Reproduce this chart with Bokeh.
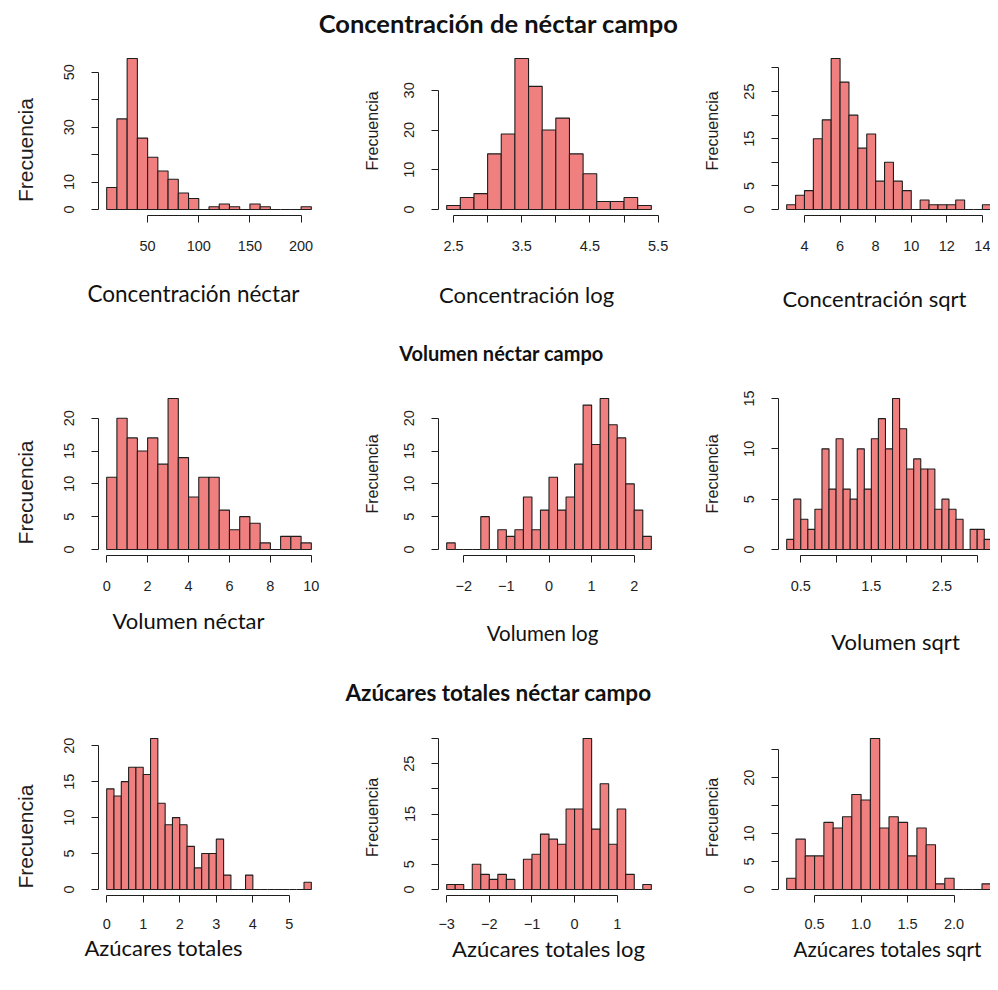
import math
from bokeh.plotting import figure
from bokeh.layouts import column, row
from bokeh.models import Range1d, FixedTicker
from bokeh.core.properties import value
from bokeh.embed import file_html
from bokeh.resources import INLINE

# ---------------- data (histogram counts) ----------------
conc_start, conc_width = 10, 10
conc_counts = [8, 33, 55, 26, 19, 14, 11, 6, 4, 0, 1, 2, 1, 0, 2, 1, 0, 0, 0, 1]

conc_log_start, conc_log_width = 2.4, 0.2
conc_log_counts = [1, 3, 4, 14, 19, 38, 31, 20, 23, 14, 9, 2, 2, 3, 1]

conc_sqrt_start, conc_sqrt_width = 3.0, 0.5
conc_sqrt_counts = [1, 3, 4, 15, 19, 32, 27, 20, 13, 16, 6, 10, 6, 4, 0, 2, 1, 1, 1, 2, 0, 0, 1]

vol_start, vol_width = 0.0, 0.5
vol_counts = [11, 20, 17, 15, 17, 13, 23, 14, 8, 11, 11, 6, 3, 5, 4, 1, 0, 2, 2, 1]

vol_log_start, vol_log_width = -2.4, 0.2
vol_log_counts = [1, 0, 0, 0, 5, 0, 3, 2, 3, 8, 3, 6, 11, 6, 8, 13, 22, 16, 23, 19, 17, 10, 6, 2]

vol_sqrt_start, vol_sqrt_width = 0.3, 0.1
vol_sqrt_counts = [1, 5, 3, 2, 4, 10, 6, 11, 6, 5, 10, 6, 11, 13, 10, 15, 12, 8, 9, 8, 8, 4, 5, 4, 3, 0, 2, 2, 1]

azu_start, azu_width = 0.0, 0.2
azu_counts = [14, 13, 15, 17, 17, 16, 21, 12, 9, 10, 9, 6, 3, 5, 5, 7, 2, 0, 0, 2, 0, 0, 0, 0, 0, 0, 0, 1]

azu_log_start, azu_log_width = -3.0, 0.2
azu_log_counts = [1, 1, 0, 5, 3, 2, 3, 2, 0, 6, 7, 11, 10, 9, 16, 16, 30, 12, 21, 9, 16, 3, 0, 1]

azu_sqrt_start, azu_sqrt_width = 0.2, 0.1
azu_sqrt_counts = [2, 9, 6, 6, 12, 11, 13, 17, 16, 27, 11, 13, 12, 6, 11, 8, 1, 2, 0, 0, 0, 1]

# tick values and tick labels ("" = tick drawn without a printed label)
conc_xticks = [50, 100, 150, 200]
conc_xlabels = ["50", "100", "150", "200"]
conc_yticks = [0, 10, 20, 30, 40, 50]
conc_ylabels = ["0", "10", "", "30", "", "50"]
conc_log_xticks = [2.5, 3.0, 3.5, 4.0, 4.5, 5.0, 5.5]
conc_log_xlabels = ["2.5", "", "3.5", "", "4.5", "", "5.5"]
conc_log_yticks = [0, 10, 20, 30]
conc_log_ylabels = ["0", "10", "20", "30"]
conc_sqrt_xticks = [4, 6, 8, 10, 12, 14]
conc_sqrt_xlabels = ["4", "6", "8", "10", "12", "14"]
conc_sqrt_yticks = [0, 5, 10, 15, 20, 25, 30]
conc_sqrt_ylabels = ["0", "5", "", "15", "", "25", ""]

vol_xticks = [0, 2, 4, 6, 8, 10]
vol_xlabels = ["0", "2", "4", "6", "8", "10"]
vol_yticks = [0, 5, 10, 15, 20]
vol_ylabels = ["0", "5", "10", "15", "20"]
vol_log_xticks = [-2, -1, 0, 1, 2]
vol_log_xlabels = ["\u22122", "\u22121", "0", "1", "2"]
vol_log_yticks = [0, 5, 10, 15, 20]
vol_log_ylabels = ["0", "5", "10", "15", "20"]
vol_sqrt_xticks = [0.5, 1.0, 1.5, 2.0, 2.5, 3.0]
vol_sqrt_xlabels = ["0.5", "", "1.5", "", "2.5", ""]
vol_sqrt_yticks = [0, 5, 10, 15]
vol_sqrt_ylabels = ["0", "5", "10", "15"]

azu_xticks = [0, 1, 2, 3, 4, 5]
azu_xlabels = ["0", "1", "2", "3", "4", "5"]
azu_yticks = [0, 5, 10, 15, 20]
azu_ylabels = ["0", "5", "10", "15", "20"]
azu_log_xticks = [-3, -2, -1, 0, 1]
azu_log_xlabels = ["\u22123", "\u22122", "\u22121", "0", "1"]
azu_log_yticks = [0, 5, 10, 15, 20, 25, 30]
azu_log_ylabels = ["0", "5", "", "15", "", "25", ""]
azu_sqrt_xticks = [0.5, 1.0, 1.5, 2.0]
azu_sqrt_xlabels = ["0.5", "1.0", "1.5", "2.0"]
azu_sqrt_yticks = [0, 5, 10, 15, 20, 25]
azu_sqrt_ylabels = ["0", "5", "10", "", "20", ""]

row_titles = ["Concentración de néctar campo", "Volumen néctar campo", "Azúcares totales néctar campo"]
x_titles = [
    ["Concentración néctar", "Concentración log", "Concentración sqrt"],
    ["Volumen néctar", "Volumen log", "Volumen sqrt"],
    ["Azúcares totales", "Azúcares totales log", "Azúcares totales sqrt"],
]
y_title = "Frecuencia"

# ---------------- layout / style constants ----------------
PAGE_W = 990
FRAME_H = 163
BASE_FW = 221
COL_START = [0, 338, 668]
LAB_W = [48, 55, 55]            # width of the strip holding "Frecuencia"
LAB_X = [25, 372, 712]          # page x of the "Frecuencia" centre
COL_FW = [221, 221, 212]
COL_LEFT = [50, 45, 55]
COL_RIGHT = [19, 9, 0]
ROW_START = [45, 377, 717]
ROW_TOP = [7, 15, 15]
ROW_BOTTOM = [47, 47, 38]
YLAB_SIZE = ["21px", "16px", "16px"]
YLAB_ABOVE_BASE = 34           # first column: label centre above the bar base
YLAB_BELOW_MID = 16            # other columns: label centre below the frame middle
BAR_FILL = "#F08080"
INK = "#1e1e1e"
R_FONT = "Liberation Sans"
DOC_FONT = "Lato"


def hist_panel(counts, start, width, xticks, xlabels, yticks, ylabels, col, r):
    n = len(counts)
    left = [start + width * i for i in range(n)]
    right = [start + width * (i + 1) for i in range(n)]
    lo, hi = left[0], right[-1]
    span = hi - lo
    ymax = max(counts)
    fw = COL_FW[col]
    x0 = lo - 0.04 * span
    x1 = x0 + fw * (1.08 * span) / BASE_FW
    p = figure(frame_width=fw, frame_height=FRAME_H,
               x_range=Range1d(x0, x1), y_range=Range1d(-0.04 * ymax, 1.04 * ymax),
               output_backend="svg", toolbar_location=None,
               min_border_left=COL_LEFT[col], min_border_right=COL_RIGHT[col],
               min_border_top=ROW_TOP[r], min_border_bottom=ROW_BOTTOM[r])
    p.quad(left=left, right=right, bottom=[0] * n, top=counts,
           fill_color=BAR_FILL, line_color=INK, line_width=1.1)
    p.xgrid.visible = False
    p.ygrid.visible = False
    p.outline_line_color = None
    p.background_fill_color = "white"
    p.border_fill_color = "white"

    p.xaxis.ticker = FixedTicker(ticks=xticks)
    p.yaxis.ticker = FixedTicker(ticks=yticks)
    p.xaxis.bounds = (xticks[0], xticks[-1])
    p.yaxis.bounds = (yticks[0], yticks[-1])
    p.xaxis.major_label_overrides = dict(zip(xticks, xlabels))
    p.yaxis.major_label_overrides = dict(zip(yticks, ylabels))
    for ax in (p.xaxis[0], p.yaxis[0]):
        ax.axis_line_color = INK
        ax.axis_line_width = 1
        ax.major_tick_line_color = INK
        ax.major_tick_out = 7
        ax.major_tick_in = 0
        ax.minor_tick_line_color = None
        ax.major_label_text_font = R_FONT
        ax.major_label_text_font_size = "14.5px"
        ax.major_label_text_color = INK
    p.xaxis.major_label_standoff = 18 if r < 2 else 16
    p.yaxis.major_label_standoff = 17
    p.yaxis.major_label_orientation = "vertical"
    return p


def ylabel_strip(col, r):
    h = ROW_TOP[r] + FRAME_H + ROW_BOTTOM[r]
    top = ROW_START[r]
    frame_top = top + ROW_TOP[r]
    if col == 0:
        sy = frame_top + FRAME_H / 1.08 * 1.04 - YLAB_ABOVE_BASE
    else:
        sy = frame_top + FRAME_H / 2 + YLAB_BELOW_MID
    s = figure(width=LAB_W[col], height=h, x_range=Range1d(0, LAB_W[col]), y_range=Range1d(0, h),
               output_backend="svg", toolbar_location=None,
               x_axis_location=None, y_axis_location=None,
               min_border=0, min_border_left=0, min_border_right=0,
               min_border_top=0, min_border_bottom=0)
    s.xgrid.visible = False
    s.ygrid.visible = False
    s.outline_line_color = None
    s.border_fill_color = "white"
    s.background_fill_color = "white"
    s.text(x=[LAB_X[col] - COL_START[col]], y=[h - (sy - top)], text=[y_title],
           angle=math.pi / 2, text_align="center", text_baseline="middle",
           text_font=value(R_FONT), text_font_size=YLAB_SIZE[col], text_color=INK)
    return s


def band(h, top, items):
    """Text strip; items = (page_x, page_y, text, size, bold)."""
    b = figure(width=PAGE_W, height=h, x_range=Range1d(0, PAGE_W), y_range=Range1d(0, h),
               output_backend="svg", toolbar_location=None,
               x_axis_location=None, y_axis_location=None,
               min_border=0, min_border_left=0, min_border_right=0,
               min_border_top=0, min_border_bottom=0)
    b.xgrid.visible = False
    b.ygrid.visible = False
    b.outline_line_color = None
    b.border_fill_color = "white"
    b.background_fill_color = "white"
    for (sx, sy, txt, size, bold) in items:
        b.text(x=[sx], y=[h - (sy - top)], text=[txt], text_align="center",
               text_baseline="middle", text_font=value(DOC_FONT),
               text_font_size=size, text_font_style="bold" if bold else "normal",
               text_color="#111111")
    return b


panels = [
    [(conc_counts, conc_start, conc_width, conc_xticks, conc_xlabels, conc_yticks, conc_ylabels),
     (conc_log_counts, conc_log_start, conc_log_width, conc_log_xticks, conc_log_xlabels, conc_log_yticks, conc_log_ylabels),
     (conc_sqrt_counts, conc_sqrt_start, conc_sqrt_width, conc_sqrt_xticks, conc_sqrt_xlabels, conc_sqrt_yticks, conc_sqrt_ylabels)],
    [(vol_counts, vol_start, vol_width, vol_xticks, vol_xlabels, vol_yticks, vol_ylabels),
     (vol_log_counts, vol_log_start, vol_log_width, vol_log_xticks, vol_log_xlabels, vol_log_yticks, vol_log_ylabels),
     (vol_sqrt_counts, vol_sqrt_start, vol_sqrt_width, vol_sqrt_xticks, vol_sqrt_xlabels, vol_sqrt_yticks, vol_sqrt_ylabels)],
    [(azu_counts, azu_start, azu_width, azu_xticks, azu_xlabels, azu_yticks, azu_ylabels),
     (azu_log_counts, azu_log_start, azu_log_width, azu_log_xticks, azu_log_xlabels, azu_log_yticks, azu_log_ylabels),
     (azu_sqrt_counts, azu_sqrt_start, azu_sqrt_width, azu_sqrt_xticks, azu_sqrt_xlabels, azu_sqrt_yticks, azu_sqrt_ylabels)],
]

rows = []
for r in range(3):
    items = []
    for c in range(3):
        items.append(ylabel_strip(c, r))
        items.append(hist_panel(*panels[r][c], col=c, r=r))
    rows.append(row(items))

XL = "22px"
band0 = band(45, 0, [(498, 22, row_titles[0], "25.5px", True)])
band1 = band(115, 262, [(193, 293, x_titles[0][0], "22.5px", False), (526, 294, x_titles[0][1], XL, False),
                         (874, 298, x_titles[0][2], XL, False), (501, 352, row_titles[1], "20px", True)])
band2 = band(115, 602, [(188, 620, x_titles[1][0], XL, False), (542, 632, x_titles[1][1], "20.5px", False),
                         (895, 641, x_titles[1][2], XL, False), (498, 692, row_titles[2], "22.5px", True)])
band3 = band(42, 933, [(163, 947, x_titles[2][0], XL, False), (548, 948, x_titles[2][1], XL, False),
                        (887, 948, x_titles[2][2], "20.5px", False)])

layout = column([band0, rows[0], band1, rows[1], band2, rows[2], band3])

open("out.html", "w").write(file_html(layout, INLINE))
